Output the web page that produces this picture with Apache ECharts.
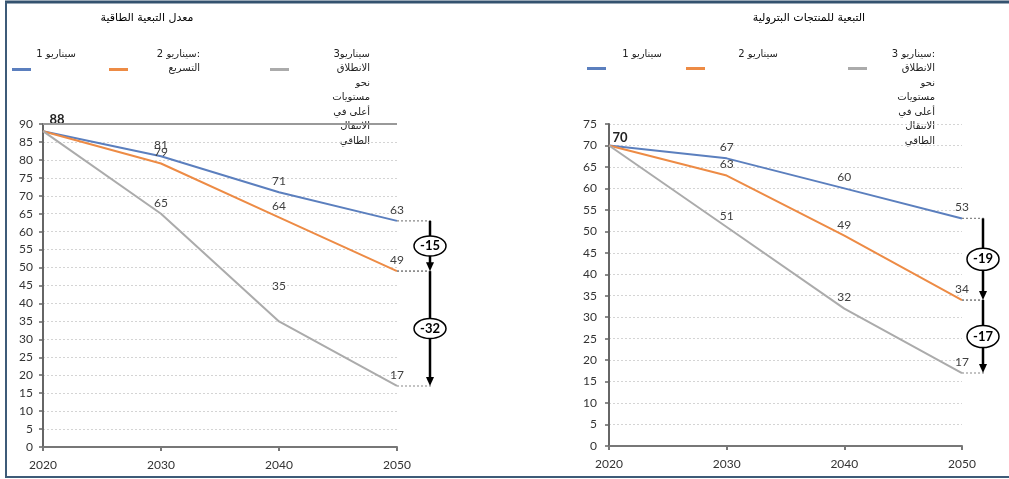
<!DOCTYPE html>
<html>
<head>
<meta charset="utf-8">
<script src="https://cdn.jsdelivr.net/npm/echarts@6/dist/echarts.min.js"></script>
<style>
    html,body{margin:0;padding:0;background:#fff;}
    #main{width:1009px;height:479px;}
</style>
</head>
<body>
<div id="main"></div>
<script>
    // data
    var years = ['2020','2030','2040','2050']
    var energyS1 = [88,81,71,63]
    var energyS2 = [88,79,64,49]
    var energyS3 = [88,65,35,17]
    var oilS1 = [70,67,60,53]
    var oilS2 = [70,63,49,34]
    var oilS3 = [70,51,32,17]
    // gaps at 2050 : [from, to, label]
    var energyGaps = [[63,49,'-15'],[49,17,'-32']]
    var oilGaps = [[53,34,'-19'],[34,17,'-17']]

    var blue = '#5b7fbe', orange = '#ed8b45', gray = '#ababab'
    var numFont = 'Lato, "Open Sans", sans-serif'
    var arFont = '"DejaVu Sans", sans-serif'

    var myChart = echarts.init(document.getElementById('main'))

    function lineData(arr, first, lift){
        return arr.map(function(v,i){
            var item = {value:v}
            if(i==0){
                if(first){
                    item.label = {show:true, position:'top', offset:first, fontWeight:'bold', fontSize:13, color:'#222'}
                }else{
                    item.label = {show:false}
                }
            }
            if(lift && lift[i]){
                item.label = {offset:[0,lift[i]]}
            }
            return item
        })
    }

    function lineSeries(name, arr, color, idx, first, lift){
        return {
            name:name,
            type:'line',
            xAxisIndex:idx,
            yAxisIndex:idx,
            data:lineData(arr, first, lift),
            symbol:'circle',
            symbolSize:0,
            showSymbol:true,
            lineStyle:{color:color, width:2},
            itemStyle:{color:color},
            label:{show:true, position:'top', distance:5, color:'#404040', fontSize:12, fontFamily:numFont},
            z:3
        }
    }

    function gapSeries(gaps, idx, shift, rx, ry){
        return {
            type:'custom',
            xAxisIndex:idx,
            yAxisIndex:idx,
            clip:false,
            silent:true,
            data:gaps.map(function(g){ return [3, g[0], g[1], g[2]] }),
            renderItem:function(params, api){
                var p1 = api.coord([api.value(0), api.value(1)])
                var p2 = api.coord([api.value(0), api.value(2)])
                var ax = p1[0] + shift
                var midY = (p1[1] + p2[1]) / 2
                var dot = {stroke:'#888', lineWidth:1.2, lineDash:[2,2]}
                return {
                    type:'group',
                    children:[
                        {type:'line', shape:{x1:p1[0],y1:p1[1],x2:ax+3,y2:p1[1]}, style:dot},
                        {type:'line', shape:{x1:p2[0],y1:p2[1],x2:ax+3,y2:p2[1]}, style:dot},
                        {type:'line', shape:{x1:ax,y1:p1[1],x2:ax,y2:p2[1]-6}, style:{stroke:'#000', lineWidth:2.5}},
                        {type:'polygon', shape:{points:[[ax-4,p2[1]-9],[ax+4,p2[1]-9],[ax,p2[1]]]}, style:{fill:'#000'}},
                        {type:'ellipse', shape:{cx:ax, cy:midY, rx:rx, ry:ry}, style:{fill:'#fff', stroke:'#000', lineWidth:1.5}},
                        {type:'text', x:ax, y:midY, style:{text:api.value(3), fill:'#000', font:'bold 13px ' + numFont, align:'center', verticalAlign:'middle'}}
                    ]
                }
            },
            z:5
        }
    }

    function xAxisCfg(idx){
        return {
            gridIndex:idx,
            type:'category',
            boundaryGap:false,
            data:years,
            axisLine:{lineStyle:{color:'#777', width:2}},
            axisTick:{show:true, length:4, lineStyle:{color:'#777', width:2}},
            axisLabel:{color:'#333', fontSize:12, fontFamily:numFont, margin:12},
            splitLine:{show:false}
        }
    }
    function yAxisCfg(idx, max, gap){
        return {
            gridIndex:idx,
            type:'value',
            min:0,
            max:max,
            interval:5,
            axisLine:{show:true, lineStyle:{color:'#666', width:2}},
            axisTick:{show:true, length:4, lineStyle:{color:'#666', width:1.5}},
            axisLabel:{color:'#333', fontSize:12, fontFamily:numFont, margin:gap},
            splitLine:{show:true, lineStyle:{color:'#d4d4d4', type:[2,2]}}
        }
    }

    function legendItem(x, y, color, tx, text){
        return [
            {type:'rect', shape:{x:x, y:y, width:19, height:3}, style:{fill:color}},
            {type:'text', x:tx, y:47, style:{text:text, fill:'#222', font:'10px ' + arFont, align:'right', verticalAlign:'top', lineHeight:14.5}}
        ]
    }

    // frame: top, left and bottom edges only
    var frame = {stroke:'#3d5b78', lineWidth:2}
    var gfx = [
        {type:'line', shape:{x1:5, y1:2, x2:1009, y2:2}, style:{stroke:'#34526f', lineWidth:3}, z:10},
        {type:'line', shape:{x1:6, y1:2, x2:6, y2:477}, style:frame, z:10},
        {type:'line', shape:{x1:5, y1:477, x2:1009, y2:477}, style:frame, z:10}
    ]
    gfx = gfx.concat(
        legendItem(12,68,blue,76,'سيناريو 1'),
        legendItem(109,68,orange,200,'سيناريو 2:\nالتسريع'),
        legendItem(270,68,gray,370,'سيناريو3\nالانطلاق\nنحو\nمستويات\nأعلى في\nالانتقال\nالطاقي'),
        legendItem(587,67,blue,662,'سيناريو 1'),
        legendItem(686,67,orange,778,'سيناريو 2'),
        legendItem(848,67,gray,935,'سيناريو 3:\nالانطلاق\nنحو\nمستويات\nأعلى في\nالانتقال\nالطاقي')
    )

    var option = {
        animation:false,
        backgroundColor:'#fff',
        title:[
            {text:'معدل التبعية الطاقية', left:142, top:8, textAlign:'center', textStyle:{fontSize:11, fontWeight:'normal', color:'#000', fontFamily:arFont}},
            {text:'التبعية للمنتجات البترولية', left:804, top:8, textAlign:'center', textStyle:{fontSize:11, fontWeight:'normal', color:'#000', fontFamily:arFont}}
        ],
        grid:[
            {left:43, right:612, top:124, bottom:32},
            {left:609, right:47, top:124, bottom:33}
        ],
        xAxis:[xAxisCfg(0), xAxisCfg(1)],
        yAxis:[yAxisCfg(0,90,10), yAxisCfg(1,75,12)],
        graphic:gfx,
        series:[
            Object.assign(lineSeries('سيناريو 1', energyS1, blue, 0, [14,0]), {
                markLine:{silent:true, symbol:'none', label:{show:false}, lineStyle:{color:'#999', width:2, type:'solid'}, data:[{yAxis:90}]}
            }),
            lineSeries('سيناريو 2: التسريع', energyS2, orange, 0),
            lineSeries('سيناريو3 الانطلاق نحو مستويات أعلى في الانتقال الطاقي', energyS3, gray, 0, null, [0,0,-24,0]),
            lineSeries('سيناريو 1', oilS1, blue, 1, [11,4]),
            lineSeries('سيناريو 2', oilS2, orange, 1),
            lineSeries('سيناريو 3: الانطلاق نحو مستويات أعلى في الانتقال الطاقي', oilS3, gray, 1),
            gapSeries(energyGaps, 0, 33, 16, 10),
            gapSeries(oilGaps, 1, 21, 16, 11)
        ]
    }
    myChart.setOption(option)
</script>
</body>
</html>
